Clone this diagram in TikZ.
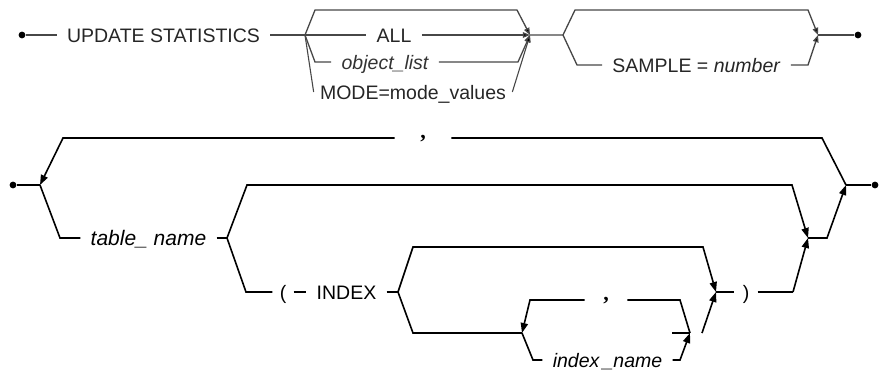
\documentclass[tikz,border=0pt]{standalone}
\usepackage{fontspec}
\setmainfont{Liberation Sans}
\newfontfamily\commafont{Liberation Serif}
\usetikzlibrary{arrows.meta}
\tikzset{
  rail/.style={line width=0.65pt, draw=black!72},
  lrail/.style={line width=0.8pt, draw=black},
  arr/.style={-{Triangle[length=3.6pt,width=2.8pt,fill=black]}},
  larr/.style={-{Triangle[length=5pt,width=3.6pt]}},
  kw/.style={inner xsep=5pt, inner ysep=1pt, text height=7pt, text depth=0pt,
    font=\fontsize{9.75}{11}\selectfont},
  sep/.style={inner sep=0pt, text height=1pt, text depth=1pt, font=\commafont\bfseries\fontsize{11}{12}\selectfont},
  dot/.style={circle, fill=black, inner sep=0pt, minimum size=3.4pt},
}
\begin{document}
\begin{tikzpicture}[x=0.5pt, y=-0.5pt]
\useasboundingbox (0,0) rectangle (885,371);

\node[dot] (st1) at (22,35) {};
\node[kw, text=black!85] (upd) at (163.5,35) {UPDATE STATISTICS};
\coordinate (b1) at (305,35);
\coordinate (j1) at (530,35);
\coordinate (t1a) at (315,10);
\coordinate (t1b) at (517,10);
\coordinate (o1a) at (315,62);
\coordinate (o1b) at (518,62);
\node[kw, text=black!85] (all) at (394,35) {ALL};
\node[kw, text=black!80] (objl) at (385,62) {\itshape object\_list};
\node[kw, text=black!85, inner xsep=3pt] (mode) at (413,92) {MODE=mode\_values};
\draw[rail] (st1) -- (upd);
\draw[rail] (upd) -- (b1) -- (all);
\draw[rail,arr] (all) -- (j1);
\draw[rail,arr] (b1) -- (t1a) -- (t1b) -- (j1);
\draw[rail] (b1) -- (o1a) -- (objl);
\draw[rail,arr] (objl) -- (o1b) -- (j1);
\draw[rail,line width=0.55pt] (b1) -- (mode.west);
\draw[rail,line width=0.55pt,arr] (mode.east) -- (j1);

\coordinate (b2) at (563,35);
\coordinate (j2) at (818,35);
\coordinate (t2a) at (575,10);
\coordinate (t2b) at (808,10);
\coordinate (s2a) at (577,65);
\coordinate (s2b) at (808,65);
\node[kw, text=black!85] (smp) at (696.5,65) {SAMPLE = \textit{number}};
\node[dot] (en1) at (858,35) {};
\draw[rail] (j1) -- (b2) -- (s2a) -- (smp);
\draw[rail,arr] (b2) -- (t2a) -- (t2b) -- (j2);
\draw[rail,arr] (smp) -- (s2b) -- (j2);
\draw[rail] (j2) -- (en1);

\node[dot] (st2) at (13,185) {};
\node[dot] (en2) at (875,185) {};
\coordinate (J1) at (40,185);
\coordinate (J2) at (846,185);
\coordinate (lpa) at (63,138);
\coordinate (lpb) at (822,138);
\node[sep, minimum width=28pt] (cm1) at (423,138) {,};
\draw[lrail] (st2) -- (J1);
\draw[lrail] (J2) -- (lpb) -- (cm1);
\draw[lrail,larr] (cm1) -- (lpa) -- (J1);

\coordinate (tna) at (60,238);
\coordinate (J3) at (227,238);
\node[kw, font=\fontsize{10.5}{12}\selectfont\itshape] (tname) at (148.5,238) {table\_ name};
\draw[lrail] (J1) -- (tna) -- (tname);
\draw[lrail] (tname) -- (J3);

\coordinate (upa) at (247,185);
\coordinate (upb) at (792,185);
\coordinate (J8) at (808,238);
\coordinate (upc) at (827,238);
\draw[lrail,larr] (J3) -- (upa) -- (upb) -- (J8);
\draw[lrail,larr] (J8) -- (upc) -- (J2);
\draw[lrail] (J2) -- (en2);

\coordinate (ixa) at (246,292);
\coordinate (J4) at (398,292);
\node[kw, inner xsep=3.5pt] (par1) at (283,292) {(};
\node[kw] (idx) at (346.5,292) {INDEX};
\draw[lrail] (J3) -- (ixa) -- (par1);
\draw[lrail] (par1) -- (idx);
\draw[lrail] (idx) -- (J4);

\coordinate (bya) at (413,247);
\coordinate (byb) at (703,247);
\coordinate (J5) at (716,292);
\draw[lrail,larr] (J4) -- (bya) -- (byb) -- (J5);

\coordinate (lwa) at (413,333);
\coordinate (J6) at (522,333);
\coordinate (J7) at (690,333);
\coordinate (J7b) at (702,333);
\coordinate (stub) at (672,333);
\coordinate (ina) at (533,360);
\coordinate (inb) at (680,360);
\coordinate (cla) at (680,300);
\coordinate (clb) at (530,300);
\node[kw, font=\fontsize{9.75}{11}\selectfont\itshape] (iname) at (607.5,360) {index\,\_name};
\node[sep, minimum width=21pt] (cm2) at (606,300) {,};
\draw[lrail] (J4) -- (lwa) -- (J6);
\draw[lrail] (J6) -- (ina) -- (iname);
\draw[lrail,larr] (iname) -- (inb) -- (J7);
\draw[lrail] (J7) -- (cla) -- (cm2);
\draw[lrail,larr] (cm2) -- (clb) -- (J6);
\draw[lrail] (stub) -- (J7);
\draw[lrail,larr] (J7b) -- (J5);

\node[kw, inner xsep=4pt] (par2) at (746,292) {)};
\coordinate (rpa) at (793,292);
\draw[lrail] (J5) -- (par2);
\draw[lrail] (par2) -- (rpa);
\draw[lrail,larr] (rpa) -- (J8);
\end{tikzpicture}
\end{document}
